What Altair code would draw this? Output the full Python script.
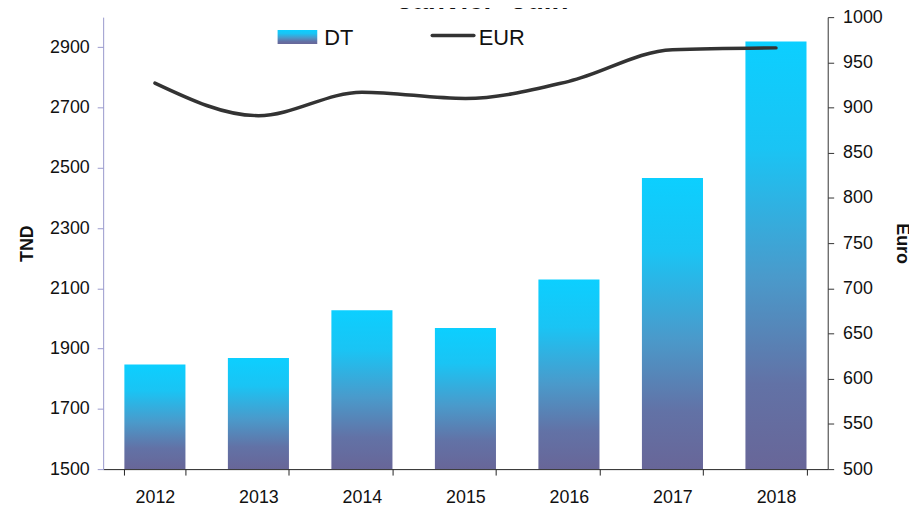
import altair as alt
import pandas as pd

years = ["2012", "2013", "2014", "2015", "2016", "2017", "2018"]
dt_values = [1847, 1869, 2027, 1968, 2129, 2466, 2919]
eur_values = [927, 891, 917, 910, 929, 964, 966]
left_ticks = [1500, 1700, 1900, 2100, 2300, 2500, 2700, 2900]
right_ticks = [500, 550, 600, 650, 700, 750, 800, 850, 900, 950, 1000]

df = pd.DataFrame({"year": years, "DT": dt_values, "EUR": eur_values})

FONT = "Liberation Sans"

grad = alt.LinearGradient(
    gradient="linear", x1=0, y1=0, x2=0, y2=1,
    stops=[
        alt.GradientStop(offset=0, color="#0ccfff"),
        alt.GradientStop(offset=0.25, color="#1ac4f4"),
        alt.GradientStop(offset=0.55, color="#4a9acb"),
        alt.GradientStop(offset=0.8, color="#6272a6"),
        alt.GradientStop(offset=1, color="#686698"),
    ],
)

xenc = alt.X(
    "year:N", title=None, sort=years,
    scale=alt.Scale(paddingInner=0.41, paddingOuter=0.205),
    axis=alt.Axis(labelAngle=0, tickBand="extent", domainColor="#222222", tickColor="#222222",
                  tickSize=6, labelPadding=14, labelFontSize=18, labelColor="#111111",
                  labelFont=FONT),
)

base = alt.Chart(df)

bars = base.mark_bar(color=grad).encode(
    x=xenc,
    y=alt.Y("DT:Q", title="TND",
            scale=alt.Scale(domain=[1500, 3000], nice=False, zero=False),
            axis=alt.Axis(values=left_ticks, format="d", domainColor="#9999cc",
                          tickColor="#9999cc", labelPadding=8,
                          tickSize=6, labelFontSize=18, labelFont=FONT, labelColor="#111111",
                          titleFont=FONT, titleFontSize=18, titleFontWeight="bold",
                          titleColor="#111111", titlePadding=13, grid=False)),
    y2=alt.datum(1500),
)

line = base.mark_line(color="#333333", strokeWidth=3.5, interpolate="monotone",
                      strokeCap="round").encode(
    x=alt.X("year:N", sort=years),
    y=alt.Y("EUR:Q", title="Euro",
            scale=alt.Scale(domain=[500, 1000], nice=False, zero=False),
            axis=alt.Axis(orient="right", values=right_ticks, format="d",
                          domainColor="#333333", labelPadding=9,
                          tickColor="#333333", tickSize=6, labelFontSize=18, labelFont=FONT,
                          labelColor="#111111", titleFont=FONT, titleFontSize=18,
                          titleFontWeight="bold", titleColor="#111111", titlePadding=10,
                          grid=False)),
)

leg_df = pd.DataFrame({"k": ["DT"]})
leg = alt.Chart(leg_df)
sw = leg.mark_rect(color=grad).encode(
    x=alt.value(176), x2=alt.value(216), y=alt.value(13), y2=alt.value(27))
sw_t = leg.mark_text(text="DT", align="left", baseline="alphabetic", fontSize=22,
                     font=FONT, color="#111111").encode(x=alt.value(223), y=alt.value(28))
ln = leg.mark_rule(color="#333333", strokeWidth=3.5, strokeCap="round").encode(
    x=alt.value(332), x2=alt.value(374), y=alt.value(18.5))
ln_t = leg.mark_text(text="EUR", align="left", baseline="alphabetic", fontSize=22,
                     font=FONT, color="#111111").encode(x=alt.value(379), y=alt.value(28))
ttl = leg.mark_text(text="Janvier- Juin", align="center", baseline="alphabetic",
                    fontSize=28, fontWeight="bold", font=FONT, color="#111111").encode(
    x=alt.value(383), y=alt.value(-8))

chart = alt.layer(bars, line, sw, sw_t, ln, ln_t, ttl).resolve_scale(y="independent").properties(
    width=731, height=456,
    autosize=alt.AutoSizeParams(type="none"),
    padding={"left": 96, "top": 7, "right": 82, "bottom": 36},
).configure_view(stroke=None)

chart.save("out.html", embed_options={"renderer": "svg", "actions": False})
